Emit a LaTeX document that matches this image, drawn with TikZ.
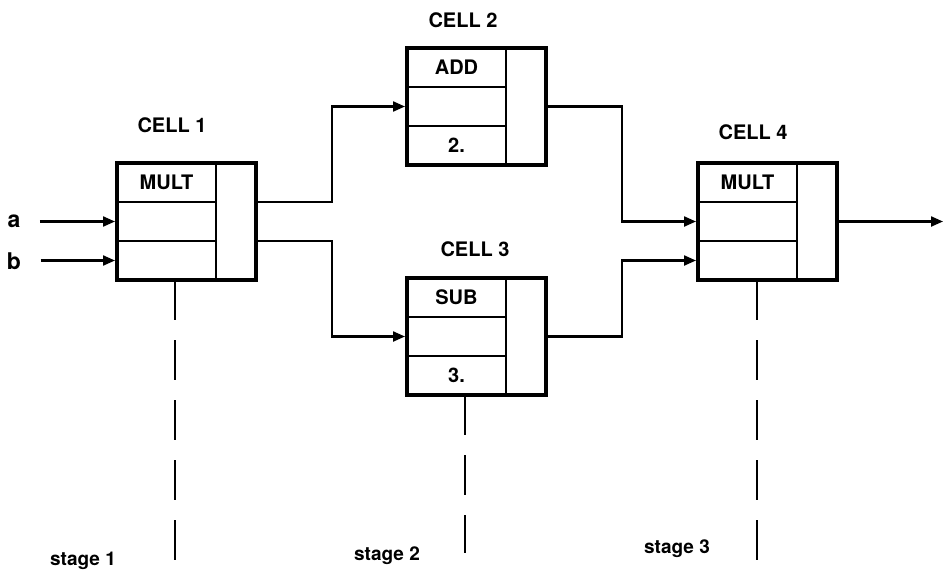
\documentclass[tikz,border=0pt]{standalone}
\usepackage{fontspec}
\setmainfont{TeX Gyre Heros}
\usetikzlibrary{arrows.meta,positioning}

\begin{document}
\begin{tikzpicture}[x=1pt,y=-1pt,>={Triangle[length=12pt,width=10pt]},font=\fontsize{20}{23}\selectfont\bfseries,
  field/.style={draw,line width=2.4pt,minimum width=99pt,minimum height=39pt,inner sep=0pt,outer sep=0pt,anchor=north west},
  register/.style={draw,line width=2.4pt,minimum width=40pt,minimum height=117pt,inner sep=0pt,outer sep=0pt,anchor=north west},
  cellframe/.style={line width=4pt},
  wire/.style={line width=2.2pt},
  feed/.style={wire,->,shorten >=2pt},
  stageline/.style={line width=2.2pt,dash pattern=on 40pt off 20pt},
  stagelabel/.style={font=\fontsize{19}{22}\selectfont\bfseries},
  inlabel/.style={font=\fontsize{23}{26}\selectfont\bfseries}]
\useasboundingbox (0,0) rectangle (944,573);

% cell 1
\node[field] (c1-op) at (117,163) {MULT};
\node[field,below=0pt of c1-op] (c1-in) {};
\node[field,below=0pt of c1-in] (c1-num) {};
\node[register] (c1-reg) at (c1-op.north east) {};
\draw[cellframe] (c1-op.north west) rectangle (c1-reg.south east);
\node (c1-name) at (172,125) {CELL 1};

% cell 2
\node[field] (c2-op) at (407,48) {ADD};
\node[field,below=0pt of c2-op] (c2-in) {};
\node[field,below=0pt of c2-in] (c2-num) {2.};
\node[register] (c2-reg) at (c2-op.north east) {};
\draw[cellframe] (c2-op.north west) rectangle (c2-reg.south east);
\node (c2-name) at (463,20) {CELL 2};

% cell 3
\node[field] (c3-op) at (407,278) {SUB};
\node[field,below=0pt of c3-op] (c3-in) {};
\node[field,below=0pt of c3-in] (c3-num) {3.};
\node[register] (c3-reg) at (c3-op.north east) {};
\draw[cellframe] (c3-op.north west) rectangle (c3-reg.south east);
\node (c3-name) at (475,249) {CELL 3};

% cell 4
\node[field] (c4-op) at (698,163) {MULT};
\node[field,below=0pt of c4-op] (c4-in) {};
\node[field,below=0pt of c4-in] (c4-num) {};
\node[register] (c4-reg) at (c4-op.north east) {};
\draw[cellframe] (c4-op.north west) rectangle (c4-reg.south east);
\node (c4-name) at (753,132) {CELL 4};

% inputs and output
\node[inlabel] (a) at (14,221) {a};
\node[inlabel] (b) at (14,261) {b};
\draw[feed,shorten <=16pt] (a.east |- c1-in) -- (c1-in.west);
\draw[feed,shorten <=16pt] (b.east |- c1-num) -- (c1-num.west);
\coordinate (out) at (943,221.5);
\draw[wire,->] (c4-reg.east) -- (out);

% links between cells
\coordinate (split-a) at (332,0);
\coordinate (split-b) at (622,0);
\draw[feed] (c1-reg.east |- c1-op.south) -| (split-a |- c2-in) -- (c2-in.west);
\draw[feed] (c1-reg.east |- c1-in.south) -| (split-a |- c3-in) -- (c3-in.west);
\draw[feed] (c2-reg.east) -| (split-b |- c4-in) -- (c4-in.west);
\draw[feed] (c3-reg.east) -| (split-b |- c4-num) -- (c4-num.west);

% stage boundaries
\coordinate (s1-end) at (175,562);
\coordinate (s2-end) at (465,553);
\coordinate (s3-end) at (757,562);
\draw[stageline] (c1-num.south -| s1-end) -- (s1-end);
\draw[stageline] (c3-num.south -| s2-end) -- (s2-end);
\draw[stageline] (c4-num.south -| s3-end) -- (s3-end);
\node[stagelabel] (st1) at (83,561) {stage 1};
\node[stagelabel] (st2) at (387,556) {stage 2};
\node[stagelabel] (st3) at (677,549) {stage 3};
\end{tikzpicture}
\end{document}
